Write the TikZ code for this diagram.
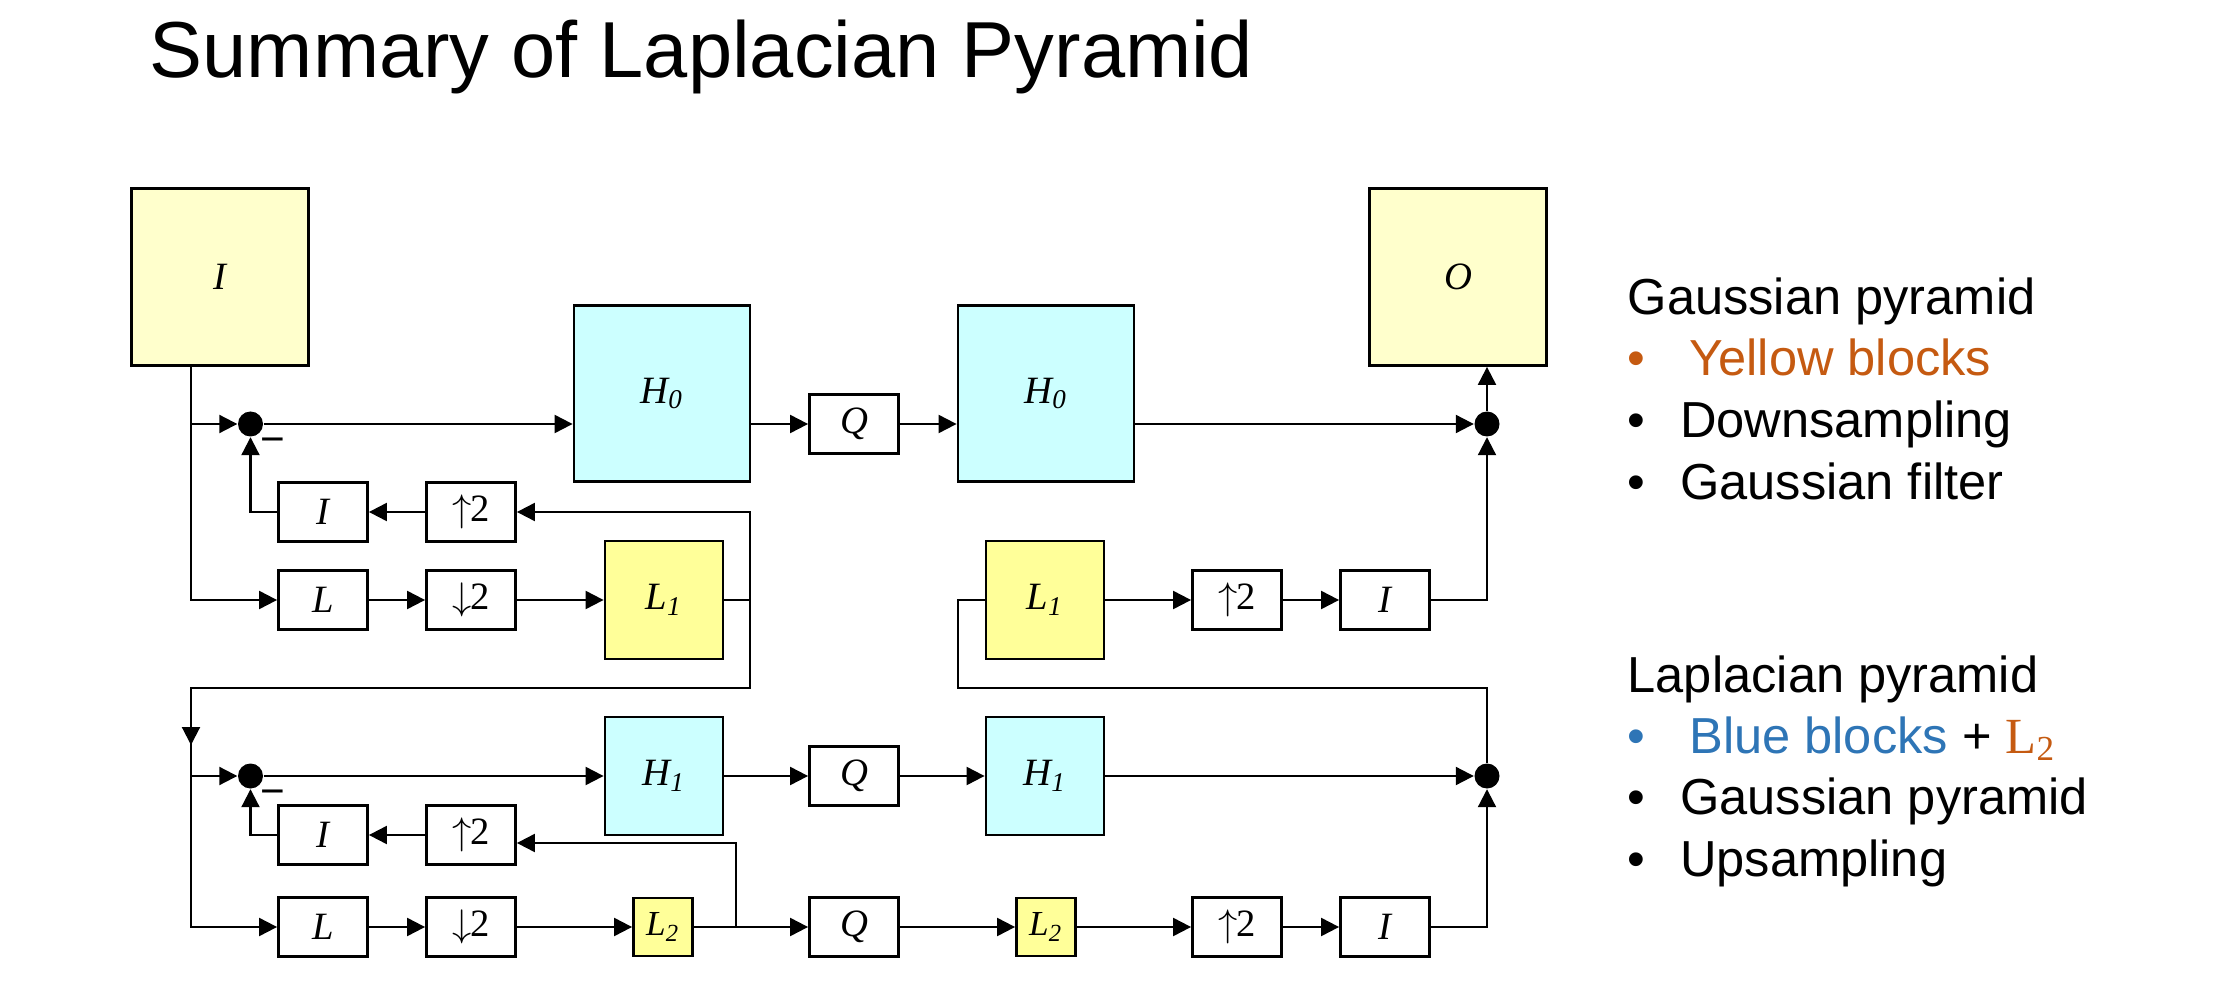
\documentclass[tikz,border=0pt]{standalone}
\usepackage{fontspec}
\setmainfont{Liberation Sans}
\newfontfamily\tnr{Liberation Serif}
\usetikzlibrary{arrows.meta, positioning, calc}
\definecolor{amclaro}{HTML}{FFFFCC}
\definecolor{amforte}{HTML}{FFFF99}
\definecolor{ciano}{HTML}{CCFFFF}
\definecolor{laranja}{HTML}{C55A11}
\definecolor{azul}{HTML}{2E75B6}
\tikzset{
  bk/.style = {draw=black, fill=white, inner sep=0pt, minimum width=0.89cm,
    minimum height=0.59cm, line width=0.8pt,
    font=\tnr\itshape\fontsize{11}{11}\selectfont},
  gy/.style = {bk, fill=amclaro, minimum width=1.77cm, minimum height=1.77cm},
  hi/.style = {bk, fill=ciano, minimum width=1.76cm, minimum height=1.76cm},
  lo/.style = {bk, fill=amforte, minimum width=1.18cm, minimum height=1.18cm},
  hs/.style = {lo, fill=ciano},
  lq/.style = {bk, fill=amforte, minimum width=0.59cm, minimum height=0.58cm,
    font=\tnr\itshape\fontsize{10}{10}\selectfont},
  sm/.style = {circle, fill=black, inner sep=0pt, minimum size=0.25cm},
  neg/.style = {inner sep=0pt, font=\fontsize{12}{12}\selectfont},
  ln/.style = {draw=black, line width=0.6pt},
  ar/.style = {ln, -{Triangle[length=1.8mm, width=1.8mm]}},
  txt/.style = {anchor=base west, inner sep=0pt, font=\fontsize{14.4}{17}\selectfont}
}
\newcommand{\upt}{\textup{\ensuremath{\uparrow}\kern-0.5pt2}}
\newcommand{\dnt}{\textup{\ensuremath{\downarrow}\kern-0.5pt2}}
\newcommand{\bul}[1][0.524cm]{\makebox[#1][l]{•}}

\begin{document}
\begin{tikzpicture}
  \useasboundingbox (0,0) rectangle (22.19,9.98);
  \node [anchor=base west, inner sep=0pt, font=\fontsize{22.6}{27}\selectfont]
    (tit) at (1.49,9.20) {Summary of Laplacian Pyramid};

  % entrada e saida
  \node [gy] (inp) at (2.20,7.21) {I};
  \node [gy] (out) at (14.58,7.21) {O};

  % nivel 0
  \node [sm] (s1) at (2.505,5.74) {};
  \node [neg] (n1) at (2.73,5.52) {−};
  \node [hi] (h0a) at (6.62,6.045) {H\textsubscript{0}};
  \node [bk] (q0) at (8.54,5.74) {Q};
  \node [hi] (h0b) at (10.46,6.045) {H\textsubscript{0}};
  \node [sm] (s2) at (14.87,5.74) {};
  \node [bk] (i1) at (3.23,4.86) {I};
  \node [bk] (u1) at (4.71,4.86) {\upt};
  \node [bk] (f1) at (3.23,3.98) {L};
  \node [bk] (d1) at (4.71,3.98) {\dnt};
  \node [lo] (l1a) at (6.64,3.98) {L\textsubscript{1}};
  \node [lo] (l1b) at (10.45,3.98) {L\textsubscript{1}};
  \node [bk] (u3) at (12.37,3.98) {\upt};
  \node [bk] (i3) at (13.85,3.98) {I};

  % nivel 1
  \node [sm] (s3) at (2.505,2.22) {};
  \node [neg] (n2) at (2.73,2.00) {−};
  \node [hs] (h1a) at (6.64,2.22) {H\textsubscript{1}};
  \node [bk] (q1) at (8.54,2.22) {Q};
  \node [hs] (h1b) at (10.45,2.22) {H\textsubscript{1}};
  \node [sm] (s4) at (14.87,2.22) {};
  \node [bk] (i2) at (3.23,1.63) {I};
  \node [bk] (u2) at (4.71,1.63) {\upt};
  \node [bk] (f2) at (3.23,0.71) {L};
  \node [bk] (d2) at (4.71,0.71) {\dnt};
  \node [lq] (l2a) at (6.63,0.71) {L\textsubscript{2}};
  \node [bk] (q2) at (8.54,0.71) {Q};
  \node [lq] (l2b) at (10.46,0.71) {L\textsubscript{2}};
  \node [bk] (u4) at (12.37,0.71) {\upt};
  \node [bk] (i4) at (13.85,0.71) {I};

  \coordinate (t0) at (1.91,6.325);
  \coordinate (k1) at (7.50,4.86);
  \coordinate (k2) at (7.50,3.10);
  \coordinate (j1) at (1.91,3.10);
  \coordinate (m1) at (1.91,2.53);
  \coordinate (k3) at (7.36,1.55);
  \coordinate (k4) at (9.58,3.10);

  % ligacoes do nivel 0
  \draw [ar] (t0) |- (f1);
  \draw [ar] (t0 |- s1) -- (s1);
  \draw [ar] (s1) -- (h0a.west |- s1);
  \draw [ar] (h0a.east |- s1) -- (q0);
  \draw [ar] (q0) -- (h0b.west |- s1);
  \draw [ar] (h0b.east |- s1) -- (s2);
  \draw [ar] (s2) -- (s2 |- out.south);
  \draw [ar] (f1) -- (d1);
  \draw [ar] (d1) -- (l1a);
  \draw [ar] (l1a.east) -| (k1) -- (u1);
  \draw [ar] (u1) -- (i1);
  \draw [ar] (i1) -| (s1);
  \draw [ar] (l1a.east -| k2) -- (k2) -- (j1) |- (f2);
  \draw [ar] (j1) -- (m1);
  \draw [ln] (l1b) -| (k4) -| (s4);
  \draw [ar] (l1b) -- (u3);
  \draw [ar] (u3) -- (i3);
  \draw [ar] (i3) -| (s2);

  % ligacoes do nivel 1
  \draw [ar] (j1 |- s3) -- (s3);
  \draw [ar] (s3) -- (h1a);
  \draw [ar] (h1a) -- (q1);
  \draw [ar] (q1) -- (h1b);
  \draw [ar] (h1b) -- (s4);
  \draw [ar] (f2) -- (d2);
  \draw [ar] (d2) -- (l2a);
  \draw [ar] (l2a) -- (q2);
  \draw [ar] (q2) -- (l2b);
  \draw [ar] (l2b) -- (u4);
  \draw [ar] (u4) -- (i4);
  \draw [ar] (i4) -| (s4);
  \draw [ar] (l2a.east -| k3) -- (k3) -- (u2.east |- k3);
  \draw [ar] (u2) -- (i2);
  \draw [ar] (i2) -| (s3);

  % legenda
  \node [txt] (ga) at (16.27,6.834) {Gaussian pyramid};
  \node [txt, text=laranja] (gb) at (16.27,6.226) {\bul[0.616cm]Yellow blocks};
  \node [txt] (gc) at (16.27,5.609) {\bul Downsampling};
  \node [txt] (gd) at (16.27,4.986) {\bul Gaussian filter};
  \node [txt] (la) at (16.27,3.056) {Laplacian pyramid};
  \node [txt] (lb) at (16.27,2.448) {{\color{azul}\bul[0.616cm]Blue blocks} +
    {\color{laranja}\tnr L\textsubscript{2}}};
  \node [txt] (lc) at (16.27,1.840) {\bul Gaussian pyramid};
  \node [txt] (ld) at (16.27,1.217) {\bul Upsampling};
\end{tikzpicture}
\end{document}
